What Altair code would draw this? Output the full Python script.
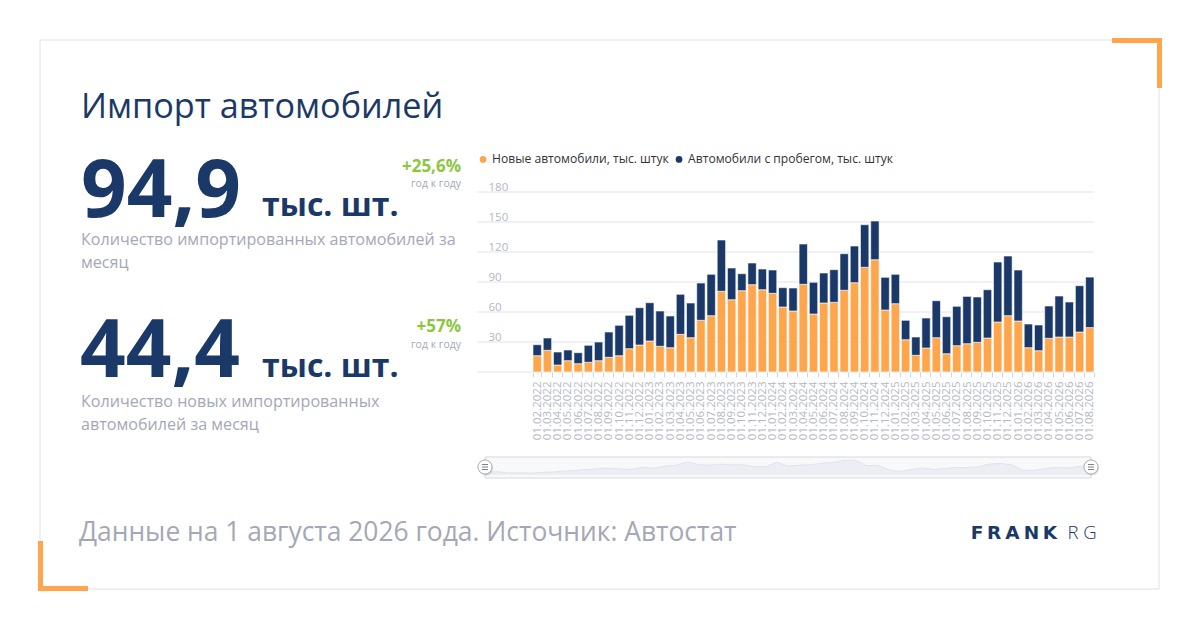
import altair as alt
import pandas as pd

# ---------------- data ----------------
months = [f"01.{m:02d}.{y}" for y in range(2022, 2027) for m in range(1, 13)]
months = months[1:months.index("01.08.2026") + 1]

new_cars = [16.3, 21.7, 7.0, 11.3, 8.3, 9.7, 11.3, 14.7, 16.3, 23.3, 27.0,
            31.0, 25.7, 24.3, 37.7, 34.3, 51.7, 56.3, 80.7, 72.3, 81.3, 87.3, 82.3,
            78.7, 65.0, 61.0, 87.7, 58.0, 69.0, 69.7, 81.7, 89.3, 104.7, 112.3, 62.0,
            68.3, 32.3, 16.7, 24.0, 34.3, 18.3, 26.3, 28.3, 29.7, 34.0, 50.0, 56.3,
            51.0, 24.3, 21.3, 33.7, 35.0, 35.0, 40.0, 44.4]
total_cars = [27.3, 34.0, 20.0, 22.0, 19.3, 26.7, 30.0, 40.0, 46.7, 56.7, 64.3,
              69.3, 61.0, 56.0, 77.7, 69.0, 89.0, 97.7, 132.0, 104.0, 98.3, 109.0, 103.0,
              102.0, 84.3, 84.0, 128.0, 89.7, 99.0, 102.3, 118.3, 126.0, 147.3, 151.0, 94.7,
              97.7, 51.7, 35.0, 54.0, 71.3, 55.3, 65.7, 75.6, 75.0, 82.3, 110.0, 116.0,
              102.0, 48.0, 47.0, 66.0, 76.0, 70.0, 86.3, 94.9]
used_cars = [round(t - n, 1) for t, n in zip(total_cars, new_cars)]

SERIES_NEW = "Новые автомобили, тыс. штук"
SERIES_USED = "Автомобили с пробегом, тыс. штук"
y_ticks = [0, 30, 60, 90, 120, 150, 180]

rows = []
for d, n, u in zip(months, new_cars, used_cars):
    rows.append({"date": d, "series": SERIES_NEW, "value": n, "ord": 0})
    rows.append({"date": d, "series": SERIES_USED, "value": u, "ord": 1})
bars_df = pd.DataFrame(rows)
nav_df = pd.DataFrame({"i": list(range(len(months))), "total": total_cars})
grid_df = pd.DataFrame({"v": y_ticks})

# ---------------- styling ----------------
NAVY = "#1b3968"
ORANGE = "#ffa64d"
GREEN = "#8dc63f"
GRAY = "#a4a8b6"
AXGRAY = "#b3b7c3"
FONT = "Open Sans"

W, H = 617, 180
OX, OY = 477, 192  # page position of the plot origin
Y_SCALE = alt.Scale(domain=[0, 180], nice=False)


def px(x):
    return x - OX


def py(y):
    return y - OY


one = pd.DataFrame({"k": [0]})


def rect(x1, x2, y1, y2, **kw):
    return alt.Chart(one).mark_rect(**kw).encode(
        x=alt.value(px(x1)), x2=alt.value(px(x2)),
        y=alt.value(py(y1)), y2=alt.value(py(y2)))


def text(s, x, y, size, color, weight="normal", align="left", font=FONT):
    return alt.Chart(one).mark_text(
        text=s, align=align, baseline="alphabetic", fontSize=size,
        fontWeight=weight, color=color, font=font).encode(
        x=alt.value(px(x)), y=alt.value(py(y)))


def hrule(x1, x2, y, color, width=1):
    return alt.Chart(one).mark_rule(color=color, strokeWidth=width).encode(
        x=alt.value(px(x1)), x2=alt.value(px(x2)), y=alt.value(py(y)))


layers = []

# card frame and orange corners
layers.append(rect(40, 1159, 40, 589, fill="white", fillOpacity=0, stroke="#e2e2e2", strokeWidth=1))
layers.append(rect(1112, 1162, 38, 43, color=ORANGE))
layers.append(rect(1157, 1162, 38, 88, color=ORANGE))
layers.append(rect(38, 43, 541, 591, color=ORANGE))
layers.append(rect(38, 88, 586, 591, color=ORANGE))

# texts
layers.append(text("Импорт автомобилей", 81, 118, 34.2, NAVY))
layers.append(text("94,9", 81, 216.5, 80, NAVY, weight="bold"))
layers.append(text("тыс. шт.", 262, 216, 32, NAVY, weight="bold"))
layers.append(text("+25,6%", 461, 172, 17, GREEN, weight="bold", align="right"))
layers.append(text("год к году", 461, 187, 10.5, GRAY, align="right"))
layers.append(text("Количество импортированных автомобилей за", 81, 245, 16.1, GRAY))
layers.append(text("месяц", 81, 268, 16.1, GRAY))
layers.append(text("44,4", 80, 377, 80, NAVY, weight="bold"))
layers.append(text("тыс. шт.", 262, 377, 32, NAVY, weight="bold"))
layers.append(text("+57%", 461, 332, 17, GREEN, weight="bold", align="right"))
layers.append(text("год к году", 461, 348, 10.5, GRAY, align="right"))
layers.append(text("Количество новых импортированных", 81, 407, 16.1, GRAY))
layers.append(text("автомобилей за месяц", 81, 429.5, 16.1, GRAY))
layers.append(text("Данные на 1 августа 2026 года. Источник: Автостат", 79, 541, 26.4, GRAY))

# logo
for ch, cx in zip("FRANK", [977, 994, 1012.5, 1031.5, 1050]):
    layers.append(text(ch, cx, 539.3, 18.5, NAVY, weight="bold", align="center", font="DejaVu Sans"))
for ch, cx in zip("RG", [1073, 1090]):
    layers.append(text(ch, cx, 539.3, 18.5, NAVY, weight=300, align="center"))

# horizontal grid lines across the whole plot width
layers.append(alt.Chart(grid_df).mark_rule(color="#dfe3ef", strokeWidth=1).encode(
    y=alt.Y("v:Q", scale=Y_SCALE, axis=None),
    x=alt.value(0), x2=alt.value(W)))

# navigator
layers.append(rect(485, 1091, 457, 478, fill="#f8f9fb", stroke="#d5d8e0", strokeWidth=1))
nav_x = alt.X("i:Q", scale=alt.Scale(domain=[0, len(months) - 1], range=[9, 613]), axis=None)
nav_y = alt.Y("total:Q", scale=alt.Scale(domain=[-20, 151], range=[285, 268], zero=False, nice=False), axis=None)
layers.append(alt.Chart(nav_df).mark_area(color="#eceef3", opacity=1).encode(
    x=nav_x, y=nav_y, y2=alt.value(285)))
layers.append(alt.Chart(nav_df).mark_line(color="#e0e3ea", strokeWidth=1).encode(x=nav_x, y=nav_y))

# bars
bars = alt.Chart(bars_df).mark_bar(stroke="white", strokeWidth=0.6).encode(
    x=alt.X("date:N", sort=months,
            scale=alt.Scale(range=[56, W], paddingInner=0.18, paddingOuter=0),
            axis=alt.Axis(title=None, domain=False, grid=False, labelAngle=270,
                          labelFontSize=11.5, labelColor=AXGRAY, labelPadding=4,
                          tickColor="#ccd6eb", tickSize=5, tickBand="extent",
                          labelFont=FONT)),
    y=alt.Y("value:Q", stack="zero", scale=Y_SCALE,
            axis=alt.Axis(title=None, values=y_ticks, domain=False, ticks=False, tickSize=0,
                          grid=False,
                          labelAlign="left", labelPadding=-11, labelBaseline="alphabetic",
                          labelOffset=-2, labelColor=AXGRAY, labelFontSize=11.5,
                          labelFont=FONT,
                          labelExpr="datum.value == 0 ? '' : datum.label")),
    color=alt.Color("series:N",
                    scale=alt.Scale(domain=[SERIES_NEW, SERIES_USED], range=[ORANGE, NAVY]),
                    legend=alt.Legend(title=None, orient="none", legendX=0, legendY=-39,
                                      direction="horizontal", symbolType="circle",
                                      symbolSize=45, symbolStrokeWidth=0, labelLimit=400,
                                      labelFontSize=12.1, labelColor="#333333",
                                      labelFont=FONT, columnPadding=4, labelOffset=3)),
    order=alt.Order("ord:Q", sort="ascending"),
)
layers.append(bars)

# navigator handles (drawn on top)
for hx in (485, 1091):
    layers.append(alt.Chart(one).mark_point(shape="circle", size=200, filled=True,
                                            color="#000000", opacity=0.12).encode(
        x=alt.value(px(hx + 1)), y=alt.value(py(468.5))))
    layers.append(alt.Chart(one).mark_point(shape="circle", size=200, filled=True,
                                            fill="white", stroke="#a9acb4", strokeWidth=1,
                                            opacity=1).encode(
        x=alt.value(px(hx)), y=alt.value(py(467))))
    for dy in (-2.5, 0, 2.5):
        layers.append(hrule(hx - 3, hx + 3, 467 + dy, "#7d8088", 1))

chart = alt.layer(*layers).resolve_scale(
    x="independent", y="independent"
).properties(
    width=W, height=H,
    padding={"left": OX - 8, "top": OY - 8, "right": 1184 - (OX - 8) - W, "bottom": 614 - (OY - 8) - H},
    autosize=alt.AutoSizeParams(type="none"),
    background="white",
    view=alt.ViewBackground(stroke="transparent", strokeWidth=0),
).configure_view(strokeWidth=0, stroke="transparent").configure_axis(
    domain=False
).configure(font=FONT)

chart.save("out.html", embed_options={"renderer": "svg", "actions": False})
